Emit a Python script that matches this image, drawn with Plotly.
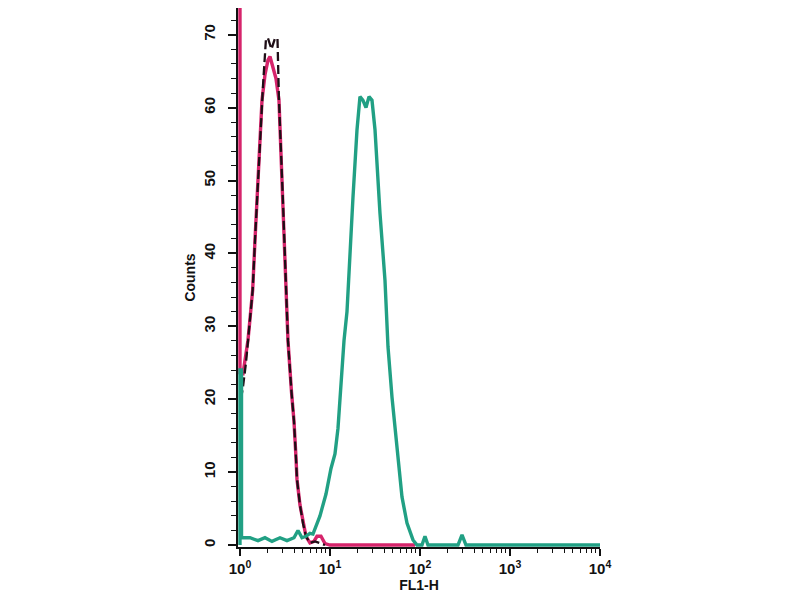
import plotly.graph_objects as go

# FL1-H channel values (x) and counts (y)
black_x = [1.026, 1.080, 1.166, 1.227, 1.292, 1.384, 1.468, 1.545, 1.668, 1.756, 1.802,
           1.946, 2.047, 2.239, 2.448, 2.610, 2.712, 3.005, 3.162, 3.287, 3.415, 3.735,
           3.981, 4.19, 4.30, 4.64, 5.01, 5.41, 5.99, 6.81, 7.74, 8.80]
black_y = [20.0, 21.7, 25.0, 28.0, 31.0, 35.0, 41.8, 47.3, 55.0, 61.0, 63.0,
           69.5, 69.5, 68.0, 69.5, 69.5, 61.0, 47.0, 40.0, 35.0, 28.0, 21.0,
           17.0, 12.0, 9.0, 5.5, 3.0, 1.2, 0.3, 0.5, 0.2, 0.0]

pink_x = [1.0, 1.0, 1.080, 1.166, 1.227, 1.292, 1.384, 1.468, 1.545, 1.668, 1.756, 1.896,
          2.047, 2.154, 2.268, 2.512, 2.712, 3.005, 3.162, 3.287, 3.415, 3.735, 3.981,
          4.19, 4.30, 4.64, 5.01, 5.41, 5.99, 6.64, 7.17, 7.94, 8.80, 10.0, 88.0]
pink_y = [80.0, 23.6, 23.5, 26.0, 28.1, 31.0, 35.0, 41.8, 47.3, 55.0, 61.0, 64.5,
          66.5, 67.0, 66.0, 64.0, 61.0, 47.0, 40.0, 35.0, 28.0, 21.0, 17.0,
          12.0, 9.0, 5.5, 3.0, 1.2, 0.3, 0.5, 1.2, 1.2, 0.2, 0.0, 0.0]

teal_x = [1.0, 1.0, 1.04, 1.04, 1.292, 1.585, 1.896, 2.268, 2.783, 3.329, 3.981, 4.41,
          4.885, 5.41, 5.99, 6.47, 7.74, 9.03, 10.26, 11.36, 12.27, 12.92, 13.59, 14.31,
          15.45, 16.68, 18.01, 19.95, 21.54, 23.26, 25.12, 27.13, 29.29, 31.62, 35.94,
          40.84, 44.1, 48.85, 55.5, 63.1, 71.7, 83.6, 92.6, 105.2, 113.6, 122.7,
          264.4, 292.9, 324.4, 10000.0]
teal_y = [0.0, 24.0, 24.0, 1.0, 1.0, 0.6, 1.0, 0.5, 1.0, 0.6, 1.0, 2.0,
          1.0, 1.2, 1.6, 1.5, 4.0, 7.0, 10.5, 12.5, 16.0, 20.0, 24.0, 28.0,
          32.0, 40.9, 47.7, 56.9, 61.5, 61.0, 60.0, 61.5, 61.0, 57.0, 45.5,
          36.3, 27.2, 20.3, 13.4, 6.6, 3.0, 0.7, 0.0, 0.0, 1.2, 0.0,
          0.0, 1.4, 0.0, 0.0]

y_ticks = [0, 10, 20, 30, 40, 50, 60, 70]
x_ticks = [1, 10, 100, 1000, 10000]
x_tick_text = ["<b>10<sup>0</sup></b>", "<b>10<sup>1</sup></b>", "<b>10<sup>2</sup></b>",
               "<b>10<sup>3</sup></b>", "<b>10<sup>4</sup></b>"]

TEAL = "#21a084"
PINK = "#d6246b"

fig = go.Figure()
fig.add_trace(go.Scatter(x=pink_x, y=pink_y, mode="lines",
                         line=dict(color=PINK, width=3.4), showlegend=False))
fig.add_trace(go.Scatter(x=black_x, y=black_y, mode="lines",
                         line=dict(color="#1e0e16", width=2.3, dash="9px,4px"), showlegend=False))
fig.add_trace(go.Scatter(x=teal_x, y=teal_y, mode="lines",
                         line=dict(color=TEAL, width=3.4), showlegend=False))

font_family = "Liberation Sans, Arial, sans-serif"

fig.update_layout(
    width=800, height=600,
    margin=dict(l=230, r=208, t=0, b=61),
    paper_bgcolor="white", plot_bgcolor="white",
    font=dict(family=font_family, color="#111", size=14),
    xaxis=dict(
        type="log", range=[-0.022, 4],
        tickvals=x_ticks, ticktext=x_tick_text,
        ticks="outside", ticklen=7, tickwidth=1.8, tickcolor="#111",
        minor=dict(ticks="outside", ticklen=4, tickwidth=1.4, tickcolor="#111", dtick="D1", showgrid=False),
        showline=True, linecolor="#111", linewidth=2,
        showgrid=False, zeroline=False,
        tickfont=dict(size=15, family=font_family),
        title=dict(text="<b>FL1-H</b>", font=dict(size=14), standoff=0),
    ),
    yaxis=dict(
        range=[-0.27, 73.66],
        tickvals=y_ticks, tickangle=-90,
        ticks="outside", ticklen=8, tickwidth=1.8, tickcolor="#111",
        ticklabelstandoff=7,
        minor=dict(ticks="outside", ticklen=5, tickwidth=1.4, tickcolor="#111", dtick=2, showgrid=False),
        showline=True, linecolor="#111", linewidth=2,
        showgrid=False, zeroline=False,
        tickfont=dict(size=15, family=font_family, weight="bold"),
        title=dict(text="<b>Counts</b>", font=dict(size=14), standoff=2),
    ),
)

fig.write_html("out.html")
